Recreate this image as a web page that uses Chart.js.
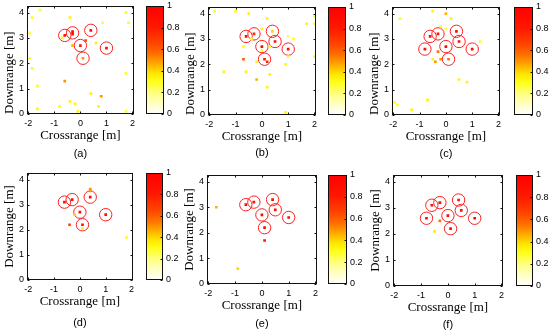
<!DOCTYPE html>
<html>
<head>
<meta charset="utf-8">
<script src="https://cdn.jsdelivr.net/npm/chart.js@4"></script>
<style>
    html, body { margin: 0; padding: 0; background: #fff; }
    body { width: 550px; height: 333px; position: relative; overflow: hidden; }
    canvas { position: absolute; }
</style>
</head>
<body>
<script>
// red circles: true target positions (panels use the first 6, 7 or 8)
const targetX = [-0.6, -0.3, 0, 0.4, 1.0, 0.1, 0.5, -0.8]
const targetY = [3.1, 3.2, 2.7, 3.3, 2.6, 2.2, 2.9, 2.6]

// detections, panel (a)
const aX = [-1.55, -1.85, -0.4, 1.75, 0.85, 1.85, -1.95, -0.7, -0.6, -0.3, -0.3, 0.2, -0.3, 0, 0.6, 0.4, 1.0, 0.1, -1.95, -1.85, 1.75, -0.6, -1.65, 0.4, -0.4, -0.2, 0.8, -0.8, 0.7, -1.65, -0.1, 1.75]
const aY = [4.1, 3.8, 3.8, 4.0, 3.6, 3.6, 3.2, 3.0, 3.1, 3.25, 3.15, 2.9, 2.7, 2.7, 2.8, 3.3, 2.6, 2.2, 2.2, 1.8, 1.6, 1.3, 1.1, 0.8, 0.5, 0.4, 0.7, 0.3, 0.3, 0.2, 0.1, 0.1]
const aV = [0.3, 0.3, 0.33, 0.3, 0.28, 0.3, 0.28, 0.33, 0.85, 0.95, 0.9, 0.65, 0.45, 0.8, 0.35, 0.9, 0.85, 0.5, 0.28, 0.3, 0.28, 0.5, 0.3, 0.33, 0.33, 0.33, 0.5, 0.3, 0.33, 0.33, 0.33, 0.28]

// panel (b)
const bX = [-1.8, -1.0, -0.5, 0.2, 0, 1.7, 2.0, 2.0, 0.4, -0.6, -0.3, -0.4, -0.7, 0, 0, 0.3, 0.5, 1.0, 1.2, 1.0, 1.0, -0.7, -0.2, 0.1, 0.2, 0.9, -1.45, -0.6, 0.3, -0.2, 0.2, 0.9, 2.0]
const bY = [4.1, 4.1, 4.0, 3.8, 3.4, 3.6, 3.9, 3.6, 3.3, 3.1, 3.2, 3.0, 2.7, 2.7, 2.55, 2.7, 2.9, 3.1, 3.0, 2.6, 2.3, 2.2, 2.1, 2.2, 2.1, 2.0, 1.7, 1.7, 1.6, 1.4, 1.1, 0.1, 2.3]
const bV = [0.3, 0.3, 0.33, 0.33, 0.33, 0.33, 0.3, 0.3, 0.4, 0.9, 0.75, 0.3, 0.3, 0.9, 0.3, 0.3, 0.9, 0.25, 0.3, 0.9, 0.3, 0.6, 0.33, 0.85, 0.75, 0.33, 0.33, 0.33, 0.33, 0.45, 0.33, 0.33, 0.3]

// panel (c)
const cX = [-1.75, -0.5, 0, 0.2, -0.2, 0, 1.3, -0.6, -0.3, 0.4, 0.5, 0, -0.8, 1.0, 0.1, -0.3, -0.2, -0.5, -0.4, 0.5, 0.8, -0.7, -1.95, -1.85, -1.3]
const cY = [3.8, 4.1, 4.0, 3.8, 3.5, 3.4, 2.9, 3.1, 3.2, 3.3, 2.9, 2.7, 2.6, 2.6, 2.2, 2.5, 2.2, 2.2, 2.1, 1.4, 1.3, 0.6, 0.5, 0.4, 0.2]
const cV = [0.3, 0.33, 0.45, 0.33, 0.3, 0.28, 0.3, 0.9, 0.85, 0.9, 0.9, 0.9, 0.9, 0.9, 0.55, 0.55, 0.5, 0.33, 0.5, 0.33, 0.33, 0.33, 0.3, 0.3, 0.33]

// panel (d)
const dX = [0.4, 0.4, -0.6, -0.3, 0.4, 0, -0.2, 1.0, -0.4, 0.1, 0.1, 1.8]
const dY = [3.62, 3.55, 3.1, 3.2, 3.3, 2.7, 2.6, 2.6, 2.2, 2.2, 2.05, 1.7]
const dV = [0.5, 0.5, 0.9, 0.9, 0.9, 0.9, 0.4, 0.9, 0.65, 0.9, 0.35, 0.3]

// panel (e)
const eX = [-1.7, -0.6, -0.3, 0.4, 0.5, 0, 1.0, 0.1, 0.1, -0.9]
const eY = [3.0, 3.1, 3.2, 3.3, 2.9, 2.7, 2.6, 2.2, 1.7, 0.6]
const eV = [0.45, 0.9, 0.9, 0.9, 0.9, 0.9, 0.9, 0.9, 0.85, 0.4]

// panel (f)
const fX = [-0.6, -0.3, 0.4, 0.5, 0, -0.8, 1.0, 0.1, -0.3, -0.5]
const fY = [3.1, 3.2, 3.3, 2.9, 2.7, 2.6, 2.6, 2.2, 2.5, 2.1]
const fV = [0.9, 0.9, 0.9, 0.9, 0.9, 0.9, 0.9, 0.9, 0.55, 0.35]

const xTicks = [-2, -1, 0, 1, 2]
const yTicks = [0, 1, 2, 3, 4]
const cbTicks = [0, 0.2, 0.4, 0.6, 0.8, 1]
const captions = ['(a)', '(b)', '(c)', '(d)', '(e)', '(f)']
const targetCounts = [6, 7, 8, 6, 7, 8]

// layout: plot box, colorbar box [left, top, right, bottom], caption offset below box
const panels = [
    { det: [aX, aY, aV], box: [27, 6, 134, 114], cb: [146, 6, 164, 114], cap: 40, yAlign: 'start' },
    { det: [bX, bY, bV], box: [208, 7, 316, 115], cb: [328, 7, 346, 115], cap: 38, yAlign: 'start' },
    { det: [cX, cY, cV], box: [392, 7, 500, 115], cb: [514, 7, 533, 115], cap: 39, yAlign: 'start' },
    { det: [dX, dY, dV], box: [27, 173, 133, 280], cb: [146, 173, 163, 280], cap: 43, yAlign: 'center' },
    { det: [eX, eY, eV], box: [207, 175, 317, 284], cb: [328, 175, 347, 284], cap: 40, yAlign: 'center' },
    { det: [fX, fY, fV], box: [393, 175, 503, 286], cb: [516, 175, 533, 286], cap: 39, yAlign: 'center' }
]

// colormap white -> yellow -> red
const cmapStops = [
    [0, [255, 255, 255]],
    [0.1, [255, 255, 195]],
    [0.2, [255, 255, 125]],
    [0.3, [255, 255, 25]],
    [0.38, [255, 228, 0]],
    [0.45, [255, 180, 0]],
    [0.55, [255, 115, 0]],
    [0.65, [255, 70, 0]],
    [0.8, [255, 25, 0]],
    [1, [255, 0, 0]]
]
function cmap(v) {
    for (let i = 1; i < cmapStops.length; i++) {
        const [p1, c1] = cmapStops[i]
        const [p0, c0] = cmapStops[i - 1]
        if (v <= p1) {
            const t = (v - p0) / (p1 - p0)
            const c = c0.map((ch, k) => Math.round(ch + (c1[k] - ch) * t))
            return `rgb(${c[0]},${c[1]},${c[2]})`
        }
    }
    return 'rgb(255,0,0)'
}

const tickFont = { family: 'Liberation Sans', size: 9 }
const labelFont = { family: 'Liberation Serif', size: 13 }
const fmt = v => String(Math.round(v * 10) / 10)

// black frame + small inward ticks (matlab look)
const framePlugin = {
    id: 'frame',
    afterDraw(chart, args, opts) {
        const { ctx, chartArea: a } = chart
        const L = Math.round(a.left) + 0.5, R = Math.round(a.right) - 0.5
        const T = Math.round(a.top) + 0.5, B = Math.round(a.bottom) - 0.5
        ctx.save()
        ctx.strokeStyle = '#111'
        ctx.lineWidth = 1
        ctx.strokeRect(L, T, R - L, B - T)
        ctx.beginPath()
        if (opts.x) {
            const sx = chart.scales.x
            opts.x.forEach(v => {
                const px = Math.round(sx.getPixelForValue(v)) + 0.5
                ctx.moveTo(px, B); ctx.lineTo(px, B - 2)
                ctx.moveTo(px, T); ctx.lineTo(px, T + 2)
            })
        }
        if (opts.y) {
            const sy = chart.scales.y
            opts.y.forEach(v => {
                const py = Math.round(sy.getPixelForValue(v)) + 0.5
                if (opts.left) { ctx.moveTo(L, py); ctx.lineTo(L + 2, py) }
                ctx.moveTo(R, py); ctx.lineTo(R - 2, py)
            })
        }
        ctx.stroke()
        ctx.restore()
    }
}

function addCanvas(left, top, w, h) {
    const cv = document.createElement('canvas')
    cv.width = w
    cv.height = h
    cv.style.left = left + 'px'
    cv.style.top = top + 'px'
    cv.style.width = w + 'px'
    cv.style.height = h + 'px'
    document.body.appendChild(cv)
    return cv
}

function drawPanel(p, idx) {
    const [l, t, r, b] = p.box
    const [xs, ys, vs] = p.det
    const yW = 25, xH = 29, padT = 9, padR = 7
    const capH = 13.2
    const capGap = p.cap - xH - capH / 2
    const left = l - yW, top = t - padT
    const w = r - left + padR
    const h = Math.ceil((b - top) + xH + capGap + capH)
    const padB = h - (b - top) - xH - capGap - capH
    const n = targetCounts[idx]

    new Chart(addCanvas(left, top, w, h), {
        type: 'scatter',
        data: {
            datasets: [
                {
                    data: xs.map((x, i) => ({ x: x, y: ys[i] })),
                    backgroundColor: vs.map(cmap),
                    pointStyle: 'rect',
                    pointRadius: 1.9,
                    borderWidth: 0
                },
                {
                    data: targetX.slice(0, n).map((x, i) => ({ x: x, y: targetY[i] })),
                    pointStyle: 'circle',
                    pointRadius: 6.2,
                    borderColor: '#ff2020',
                    backgroundColor: 'rgba(0,0,0,0)',
                    borderWidth: 1
                }
            ]
        },
        options: {
            responsive: false,
            animation: false,
            devicePixelRatio: 1,
            layout: { padding: { left: 0, top: padT, right: padR, bottom: padB } },
            scales: {
                x: {
                    type: 'linear', min: -2.05, max: 2.05,
                    afterBuildTicks: s => { s.ticks = xTicks.map(v => ({ value: v })) },
                    afterFit: s => { s.height = xH },
                    grid: { display: false, drawTicks: false },
                    border: { display: false },
                    ticks: { font: tickFont, color: '#000', padding: 4, maxRotation: 0, minRotation: 0, autoSkip: false, callback: fmt },
                    title: { display: true, text: 'Crossrange [m]', font: labelFont, color: '#000', padding: 0 }
                },
                y: {
                    type: 'linear', min: 0, max: 4.26,
                    afterBuildTicks: s => { s.ticks = yTicks.map(v => ({ value: v })) },
                    afterFit: s => { s.width = yW },
                    grid: { display: false, drawTicks: false },
                    border: { display: false },
                    ticks: { font: tickFont, color: '#000', padding: 3, autoSkip: false, callback: fmt },
                    title: { display: true, text: 'Downrange [m]', font: labelFont, color: '#000', padding: 0, align: p.yAlign }
                }
            },
            plugins: {
                legend: { display: false },
                tooltip: { enabled: false },
                title: {
                    display: true, position: 'bottom', fullSize: false,
                    text: captions[idx], color: '#000',
                    font: { family: 'Liberation Sans', size: 11, weight: 'normal' },
                    padding: { top: capGap, bottom: 0 }
                },
                frame: { x: xTicks, y: yTicks, left: true }
            }
        },
        plugins: [framePlugin]
    })

    // colorbar
    const [cl, ct, cr, cb] = p.cb
    const cbW = 20, cpad = 9
    new Chart(addCanvas(cl - 1, ct - cpad, cr - cl + 1 + cbW, cb - ct + 2 * cpad), {
        type: 'bar',
        data: {
            labels: [''],
            datasets: [{
                data: [1],
                barPercentage: 1,
                categoryPercentage: 1,
                borderWidth: 0,
                backgroundColor: ctx => {
                    const a = ctx.chart.chartArea
                    if (!a) return null
                    const g = ctx.chart.ctx.createLinearGradient(0, a.bottom, 0, a.top)
                    cmapStops.forEach(([pos]) => g.addColorStop(pos, cmap(pos)))
                    return g
                }
            }]
        },
        options: {
            responsive: false,
            animation: false,
            devicePixelRatio: 1,
            layout: { padding: { left: 1, top: cpad, right: 0, bottom: cpad } },
            scales: {
                x: { display: false },
                y: {
                    position: 'right', min: 0, max: 1,
                    afterBuildTicks: s => { s.ticks = cbTicks.map(v => ({ value: v })) },
                    afterFit: s => { s.width = cbW },
                    grid: { display: false, drawTicks: false },
                    border: { display: false },
                    ticks: { font: tickFont, color: '#000', padding: 3, autoSkip: false, callback: fmt }
                }
            },
            plugins: {
                legend: { display: false },
                tooltip: { enabled: false },
                frame: { y: cbTicks, left: false }
            }
        },
        plugins: [framePlugin]
    })
}

// panel (f) first, then the rest
drawPanel(panels[5], 5)
panels.slice(0, 5).forEach(drawPanel)
</script>
</body>
</html>
